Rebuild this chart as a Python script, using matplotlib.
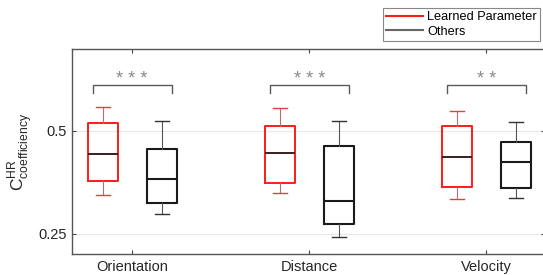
import matplotlib.pyplot as plt
from matplotlib.lines import Line2D

# values
categories = ['Orientation', 'Distance', 'Velocity']
stars = ['* * *', '* * *', '* *']

learned_low = [0.345, 0.348, 0.334]
learned_q1 = [0.378, 0.374, 0.364]
learned_med = [0.444, 0.446, 0.437]
learned_q3 = [0.520, 0.512, 0.512]
learned_high = [0.559, 0.556, 0.549]

others_low = [0.297, 0.242, 0.336]
others_q1 = [0.324, 0.273, 0.361]
others_med = [0.383, 0.330, 0.424]
others_q3 = [0.455, 0.463, 0.473]
others_high = [0.524, 0.524, 0.521]

plt.rcParams['font.family'] = ['Liberation Sans', 'DejaVu Sans']
plt.rcParams['mathtext.fontset'] = 'custom'
plt.rcParams['mathtext.rm'] = 'Liberation Sans'


def make_stats(low, q1, med, q3, high):
    return [{'whislo': a, 'q1': b, 'med': c, 'q3': d, 'whishi': e, 'fliers': []}
            for a, b, c, d, e in zip(low, q1, med, q3, high)]


fig = plt.figure(figsize=(5.43, 2.75), dpi=100)
ax = fig.add_axes([72 / 543, 21 / 275, 473 / 543, 205 / 275])

pos = [1, 2, 3]
off = 0.167
width = 0.17

learned_stats = make_stats(learned_low, learned_q1, learned_med, learned_q3, learned_high)
others_stats = make_stats(others_low, others_q1, others_med, others_q3, others_high)

ax.bxp(learned_stats, positions=[p - off for p in pos], widths=width,
       showfliers=False, capwidths=0.08,
       boxprops=dict(color='#ff1a1a', linewidth=1.4),
       medianprops=dict(color='#3a2020', linewidth=1.4),
       whiskerprops=dict(color='#c86a6a', linewidth=0.8),
       capprops=dict(color='#e04040', linewidth=1.0))
ax.bxp(others_stats, positions=[p + off for p in pos], widths=width,
       showfliers=False, capwidths=0.08,
       boxprops=dict(color='#1a1a1a', linewidth=1.5),
       medianprops=dict(color='#1a1a1a', linewidth=1.5),
       whiskerprops=dict(color='#555555', linewidth=0.8),
       capprops=dict(color='#333333', linewidth=1.0))

# significance brackets
for p, s in zip(pos, stars):
    ax.plot([p - 0.224, p - 0.224, p + 0.224, p + 0.224],
            [0.593, 0.612, 0.612, 0.593], color='#5a5a5a', lw=1.0)
    ax.text(p, 0.615, s, ha='center', va='baseline', fontsize=13, color='#8a8a8a')

ax.set_xlim(0.66, 3.332)
ax.set_ylim(0.2, 0.7)
ax.set_xticks(pos)
ax.set_xticklabels(categories, fontsize=10.5, color='#262626')
ax.set_yticks([0.25, 0.5])
ax.set_yticklabels(['0.25', '0.5'], fontsize=10.5, color='#262626')
ax.tick_params(direction='in', length=3, top=True, right=True, pad=4, color='#444444')
ax.yaxis.grid(True, color='#e8e8e8', lw=0.8)
ax.set_axisbelow(True)
for sp in ax.spines.values():
    sp.set_color('#555555')
    sp.set_linewidth(1.0)

ax.set_ylabel(r'$\mathrm{C}^{\mathrm{HR}}_{\mathrm{coefficiency}}$', fontsize=12.5,
              color='#262626', labelpad=2)

handles = [Line2D([], [], color='#ff1a1a', lw=1.5),
           Line2D([], [], color='#666666', lw=1.5)]
leg = fig.legend(handles, ['Learned Parameter', 'Others'], loc='upper left',
                 bbox_to_anchor=(383 / 543, 1 - 8 / 275), borderaxespad=0,
                 fontsize=9.2, handlelength=2.85, handletextpad=0.35, labelspacing=0.2,
                 borderpad=0.25, fancybox=False, framealpha=1)
leg.get_frame().set_edgecolor('#888888')
leg.get_frame().set_linewidth(0.8)

fig.savefig('out.png', dpi=100)
